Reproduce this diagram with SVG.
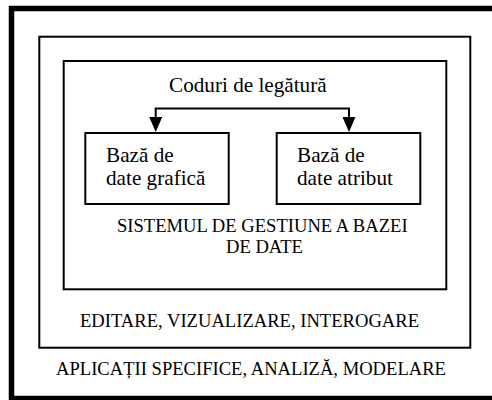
<svg xmlns="http://www.w3.org/2000/svg" width="492" height="400" viewBox="0 0 492 400" font-family="Liberation Serif, serif">
<style>
.box{fill:none;stroke:#000;stroke-width:2}
.t{font-family:Liberation Serif, serif;fill:#000}
.lc{font-size:21.2px}
.uc{font-size:18.6px}
.conn{fill:none;stroke:#000;stroke-width:2}
</style>
<defs>
<marker id="arr" markerUnits="userSpaceOnUse" markerWidth="15" markerHeight="13" viewBox="0 0 15 13" refX="0" refY="6.5" orient="auto-start-reverse">
<path d="M0,0 L15,6.5 L0,13 z" fill="#000"/>
</marker>
</defs>
<rect width="492" height="400" fill="#fff"/>
<g id="aplicatii">
<rect x="11.5" y="8.5" width="486" height="390" fill="none" stroke="#000" stroke-width="5.5"/>
<text class="t uc" x="56" y="375">APLICAȚII SPECIFICE, ANALIZĂ, MODELARE</text>
</g>
<g id="editare">
<rect class="box" x="39.3" y="36.7" width="431" height="311"/>
<text class="t uc" x="80" y="327">EDITARE, VIZUALIZARE, INTEROGARE</text>
</g>
<g id="sgbd">
<rect class="box" x="63.7" y="61" width="382.6" height="228.3"/>
<text class="t uc" x="117" y="232">SISTEMUL DE GESTIUNE A BAZEI</text>
<text class="t uc" x="226" y="253">DE DATE</text>
</g>
<g id="coduri">
<text class="t lc" x="169" y="91.5">Coduri de legătură</text>
</g>
<g id="grafica">
<rect class="box" x="85.3" y="133" width="143.4" height="71"/>
<text class="t lc" x="106" y="162">Bază de</text>
<text class="t lc" x="106" y="184.5">date grafică</text>
</g>
<g id="atribut">
<rect class="box" x="276.7" y="133" width="143.6" height="71"/>
<text class="t lc" x="297" y="162">Bază de</text>
<text class="t lc" x="297" y="184.5">date atribut</text>
</g>
<g id="connectors">
<path class="conn" d="M155.7,117 V108.5 H349 V117" marker-start="url(#arr)" marker-end="url(#arr)"/>
</g>
</svg>
